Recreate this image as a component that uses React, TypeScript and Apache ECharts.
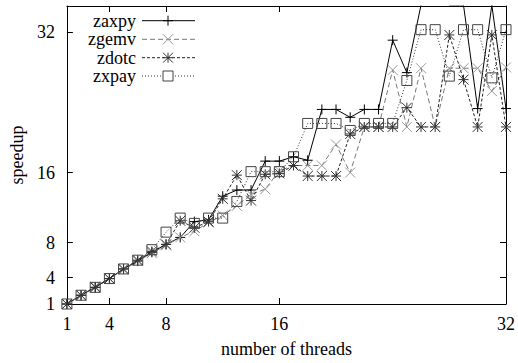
import React, { useEffect, useRef } from "react";
import * as echarts from "echarts";

const threads = [1, 2, 3, 4, 5, 6, 7, 8, 9, 10, 11, 12, 13, 14, 15, 16, 17, 18, 19, 20, 21, 22, 23, 24, 25, 26, 27, 28, 29, 30, 31, 32];
const zaxpy = [1, 2, 2.9, 3.9, 5, 5.9, 6.9, 7.8, 8.6, 10.4, 10.6, 13.3, 14.0, 14.0, 17.3, 17.3, 17.8, 17.4, 23.2, 23.2, 22.3, 23.2, 23.2, 31.1, 27.4, 35.1, 37, 35.1, 35.1, 23.3, 35.1, 23.3];
const zgemv = [1, 2, 3, 3.9, 4.9, 5.9, 6.8, 7.7, 8.6, 9.3, 10.3, 11.1, 12.2, 13.5, 14.1, 16.2, 16.8, 16.8, 16.8, 19.2, 16.0, 21.2, 21.2, 27.7, 21.2, 27.9, 21.2, 27.9, 27.9, 27.9, 25.3, 28.0];
const zdotc = [1, 2, 2.9, 3.9, 5, 6, 7, 7.8, 10.5, 9.7, 10.4, 13.0, 15.7, 12.8, 15.8, 15.9, 16.8, 15.6, 15.6, 15.6, 20.4, 21.2, 21.2, 21.2, 23.4, 21.2, 21.2, 31.7, 26.6, 21.2, 31.7, 21.2];
const zxpay = [1, 2, 2.9, 3.9, 5, 6, 7.2, 9.2, 10.8, 10.2, 10.8, 10.8, 12.7, 16.1, 16.1, 16.1, 17.8, 21.6, 21.6, 21.6, 20.8, 21.6, 21.6, 21.6, 26.5, 32.3, 32.3, 27.0, 32.3, 32.3, 26.8, 32.3];
const tickValues = [1, 4, 8, 16, 32];
const seriesNames = ["zaxpy", "zgemv", "zdotc", "zxpay"];

const FONT = "Liberation Serif";

const PLUS = "path://M0,5H10M5,0V10";
const CROSS = "path://M0,0L10,10M10,0L0,10";
const STAR = "path://M0,5H10M5,0V10M0,0L10,10M10,0L0,10";
const SQUARE = "path://M0,0H10V10H0Z";

const styles = [
  { symbol: PLUS, line: "#000", mark: "#000", dash: "solid" as any },
  { symbol: CROSS, line: "#777", mark: "#999", dash: [5, 3] },
  { symbol: STAR, line: "#222", mark: "#333", dash: [3, 2] },
  { symbol: SQUARE, line: "#333", mark: "#444", dash: [1, 2] },
];

export default function App() {
  const ref = useRef<HTMLDivElement>(null);
  useEffect(() => {
    if (!ref.current) return;
    const chart = echarts.init(ref.current, undefined, { renderer: "svg" });
    const datas = [zaxpy, zgemv, zdotc, zxpay];
    const series = datas.map((d, i) => ({
      name: seriesNames[i],
      type: "line",
      xAxisIndex: 0,
      yAxisIndex: 0,
      data: threads.map((t, j) => [t, d[j]]),
      symbol: styles[i].symbol,
      symbolSize: 10,
      showSymbol: true,
      clip: true,
      lineStyle: { color: styles[i].line, width: 1, type: styles[i].dash },
      itemStyle: { color: "transparent", borderColor: styles[i].mark, borderWidth: 1 },
      emphasis: { disabled: true },
      z: 2 + i,
    }));

    const legendRows = [20.7, 39.3, 57.7, 76];
    const graphic: any[] = [];
    legendRows.forEach((y, i) => {
      const st = styles[i];
      graphic.push({
        type: "text",
        x: 136,
        y,
        style: { text: seriesNames[i], fontSize: 18, fontFamily: FONT, fontWeight: "normal", fill: "#000", align: "right", verticalAlign: "middle" },
      });
      graphic.push({
        type: "line",
        shape: { x1: 142, y1: y, x2: 195, y2: y },
        style: { stroke: st.line, lineWidth: 1, lineDash: Array.isArray(st.dash) ? st.dash : null },
      });
      const cx = 168;
      const h = 5;
      const ms = { stroke: st.mark, lineWidth: 1, fill: "none" };
      if (i === 0 || i === 2) {
        graphic.push({ type: "line", shape: { x1: cx - h, y1: y, x2: cx + h, y2: y }, style: ms });
        graphic.push({ type: "line", shape: { x1: cx, y1: y - h, x2: cx, y2: y + h }, style: ms });
      }
      if (i === 1 || i === 2) {
        graphic.push({ type: "line", shape: { x1: cx - h, y1: y - h, x2: cx + h, y2: y + h }, style: ms });
        graphic.push({ type: "line", shape: { x1: cx + h, y1: y - h, x2: cx - h, y2: y + h }, style: ms });
      }
      if (i === 3) {
        graphic.push({ type: "rect", shape: { x: cx - h, y: y - h, width: 2 * h, height: 2 * h }, style: { stroke: st.mark, lineWidth: 1, fill: "#fff" } });
      }
    });

    const axisCommon = {
      type: "value",
      axisLine: { show: true, lineStyle: { color: "#000", width: 1 } },
      axisTick: { show: true, inside: true, length: 6, customValues: tickValues, lineStyle: { color: "#000" } },
      splitLine: { show: false },
    };
    const txt = { color: "#000", fontFamily: FONT, fontSize: 18, fontWeight: "normal" };

    chart.setOption({
      animation: false,
      textStyle: { fontFamily: FONT },
      grid: { left: 66, right: 10, top: 6, bottom: 57, containLabel: false },
      xAxis: [
        {
          ...axisCommon,
          position: "bottom",
          min: 1,
          max: 32,
          axisLabel: { customValues: tickValues, ...txt, margin: 11 },
          name: "number of threads",
          nameLocation: "middle",
          nameGap: 36,
          nameTextStyle: txt,
        },
        {
          ...axisCommon,
          position: "top",
          min: 1,
          max: 32,
          axisLabel: { show: false },
        },
      ],
      yAxis: [
        {
          ...axisCommon,
          position: "left",
          min: 1,
          max: 35,
          axisLabel: { customValues: tickValues, ...txt, margin: 12 },
          name: "speedup",
          nameLocation: "middle",
          nameGap: 40,
          nameRotate: 90,
          nameTextStyle: txt,
        },
        {
          ...axisCommon,
          position: "right",
          min: 1,
          max: 35,
          axisLabel: { show: false },
        },
      ],
      series,
      graphic,
    });
    return () => chart.dispose();
  }, []);
  return <div ref={ref} style={{ position: "fixed", left: 0, top: 0, width: 518, height: 363, background: "#fff" }} />;
}
